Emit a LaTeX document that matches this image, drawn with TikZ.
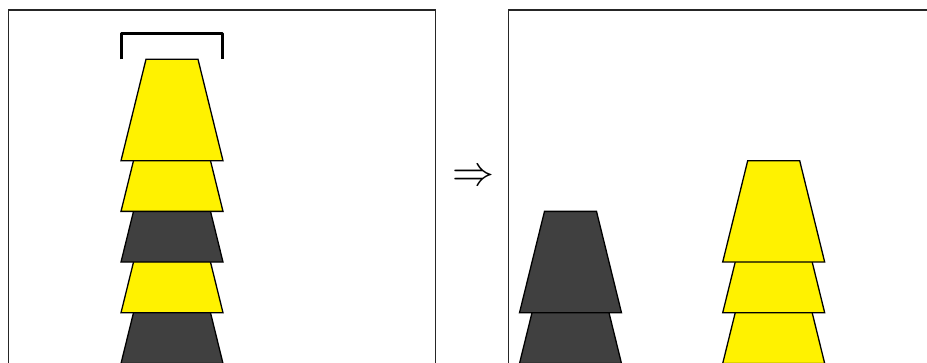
\documentclass[tikz,border=0pt]{standalone}
\usepackage{amssymb}
\definecolor{cupyellow}{RGB}{255,242,0}
\definecolor{cupdark}{RGB}{64,64,64}
\tikzset{
  cupline/.style={draw=black, line width=1.3pt, line join=miter},
  framebox/.style={draw=black!85, line width=1.2pt},
  bracketline/.style={draw=black, line width=3pt, line join=round},
}
% #1 fill colour, #2 centre x, #3 bottom y (pixels, y downwards)
\newcommand\drawcup[3]{%
  \filldraw[cupline, fill=#1] ({#2-51},{#3}) -- ({#2+51},{#3}) -- ({#2+26},{#3-101.4}) -- ({#2-26},{#3-101.4}) -- cycle;}
\begin{document}
\begin{tikzpicture}[x=1pt,y=-1pt]
\useasboundingbox (0,0) rectangle (927,363);
\begin{scope}
\clip (0,0) rectangle (927,363);
% frames
\draw[framebox] (8.7,380) -- (8.7,10) -- (435.7,10) -- (435.7,380);
\draw[framebox] (508.5,380) -- (508.5,10) -- (940,10);
% left stack (bottom first)
\drawcup{cupdark}{172}{363.5}
\drawcup{cupyellow}{172}{312.8}
\drawcup{cupdark}{172}{262.1}
\drawcup{cupyellow}{172}{211.4}
\drawcup{cupyellow}{172}{160.7}
% bracket
\coordinate (bl) at (121,59.3);
\coordinate (br) at (222.5,59.3);
\draw[bracketline] (bl) -- (121,33.7) -- (222.5,33.7) -- (br);
% right stacks
\drawcup{cupdark}{570.5}{363.5}
\drawcup{cupdark}{570.5}{312.8}
\drawcup{cupyellow}{773.7}{363.5}
\drawcup{cupyellow}{773.7}{312.8}
\drawcup{cupyellow}{773.7}{262.1}
\end{scope}
% arrow
\node[inner sep=0pt, scale=4.2] (arr) at (473,178) {$\Rightarrow$};
\end{tikzpicture}
\end{document}
